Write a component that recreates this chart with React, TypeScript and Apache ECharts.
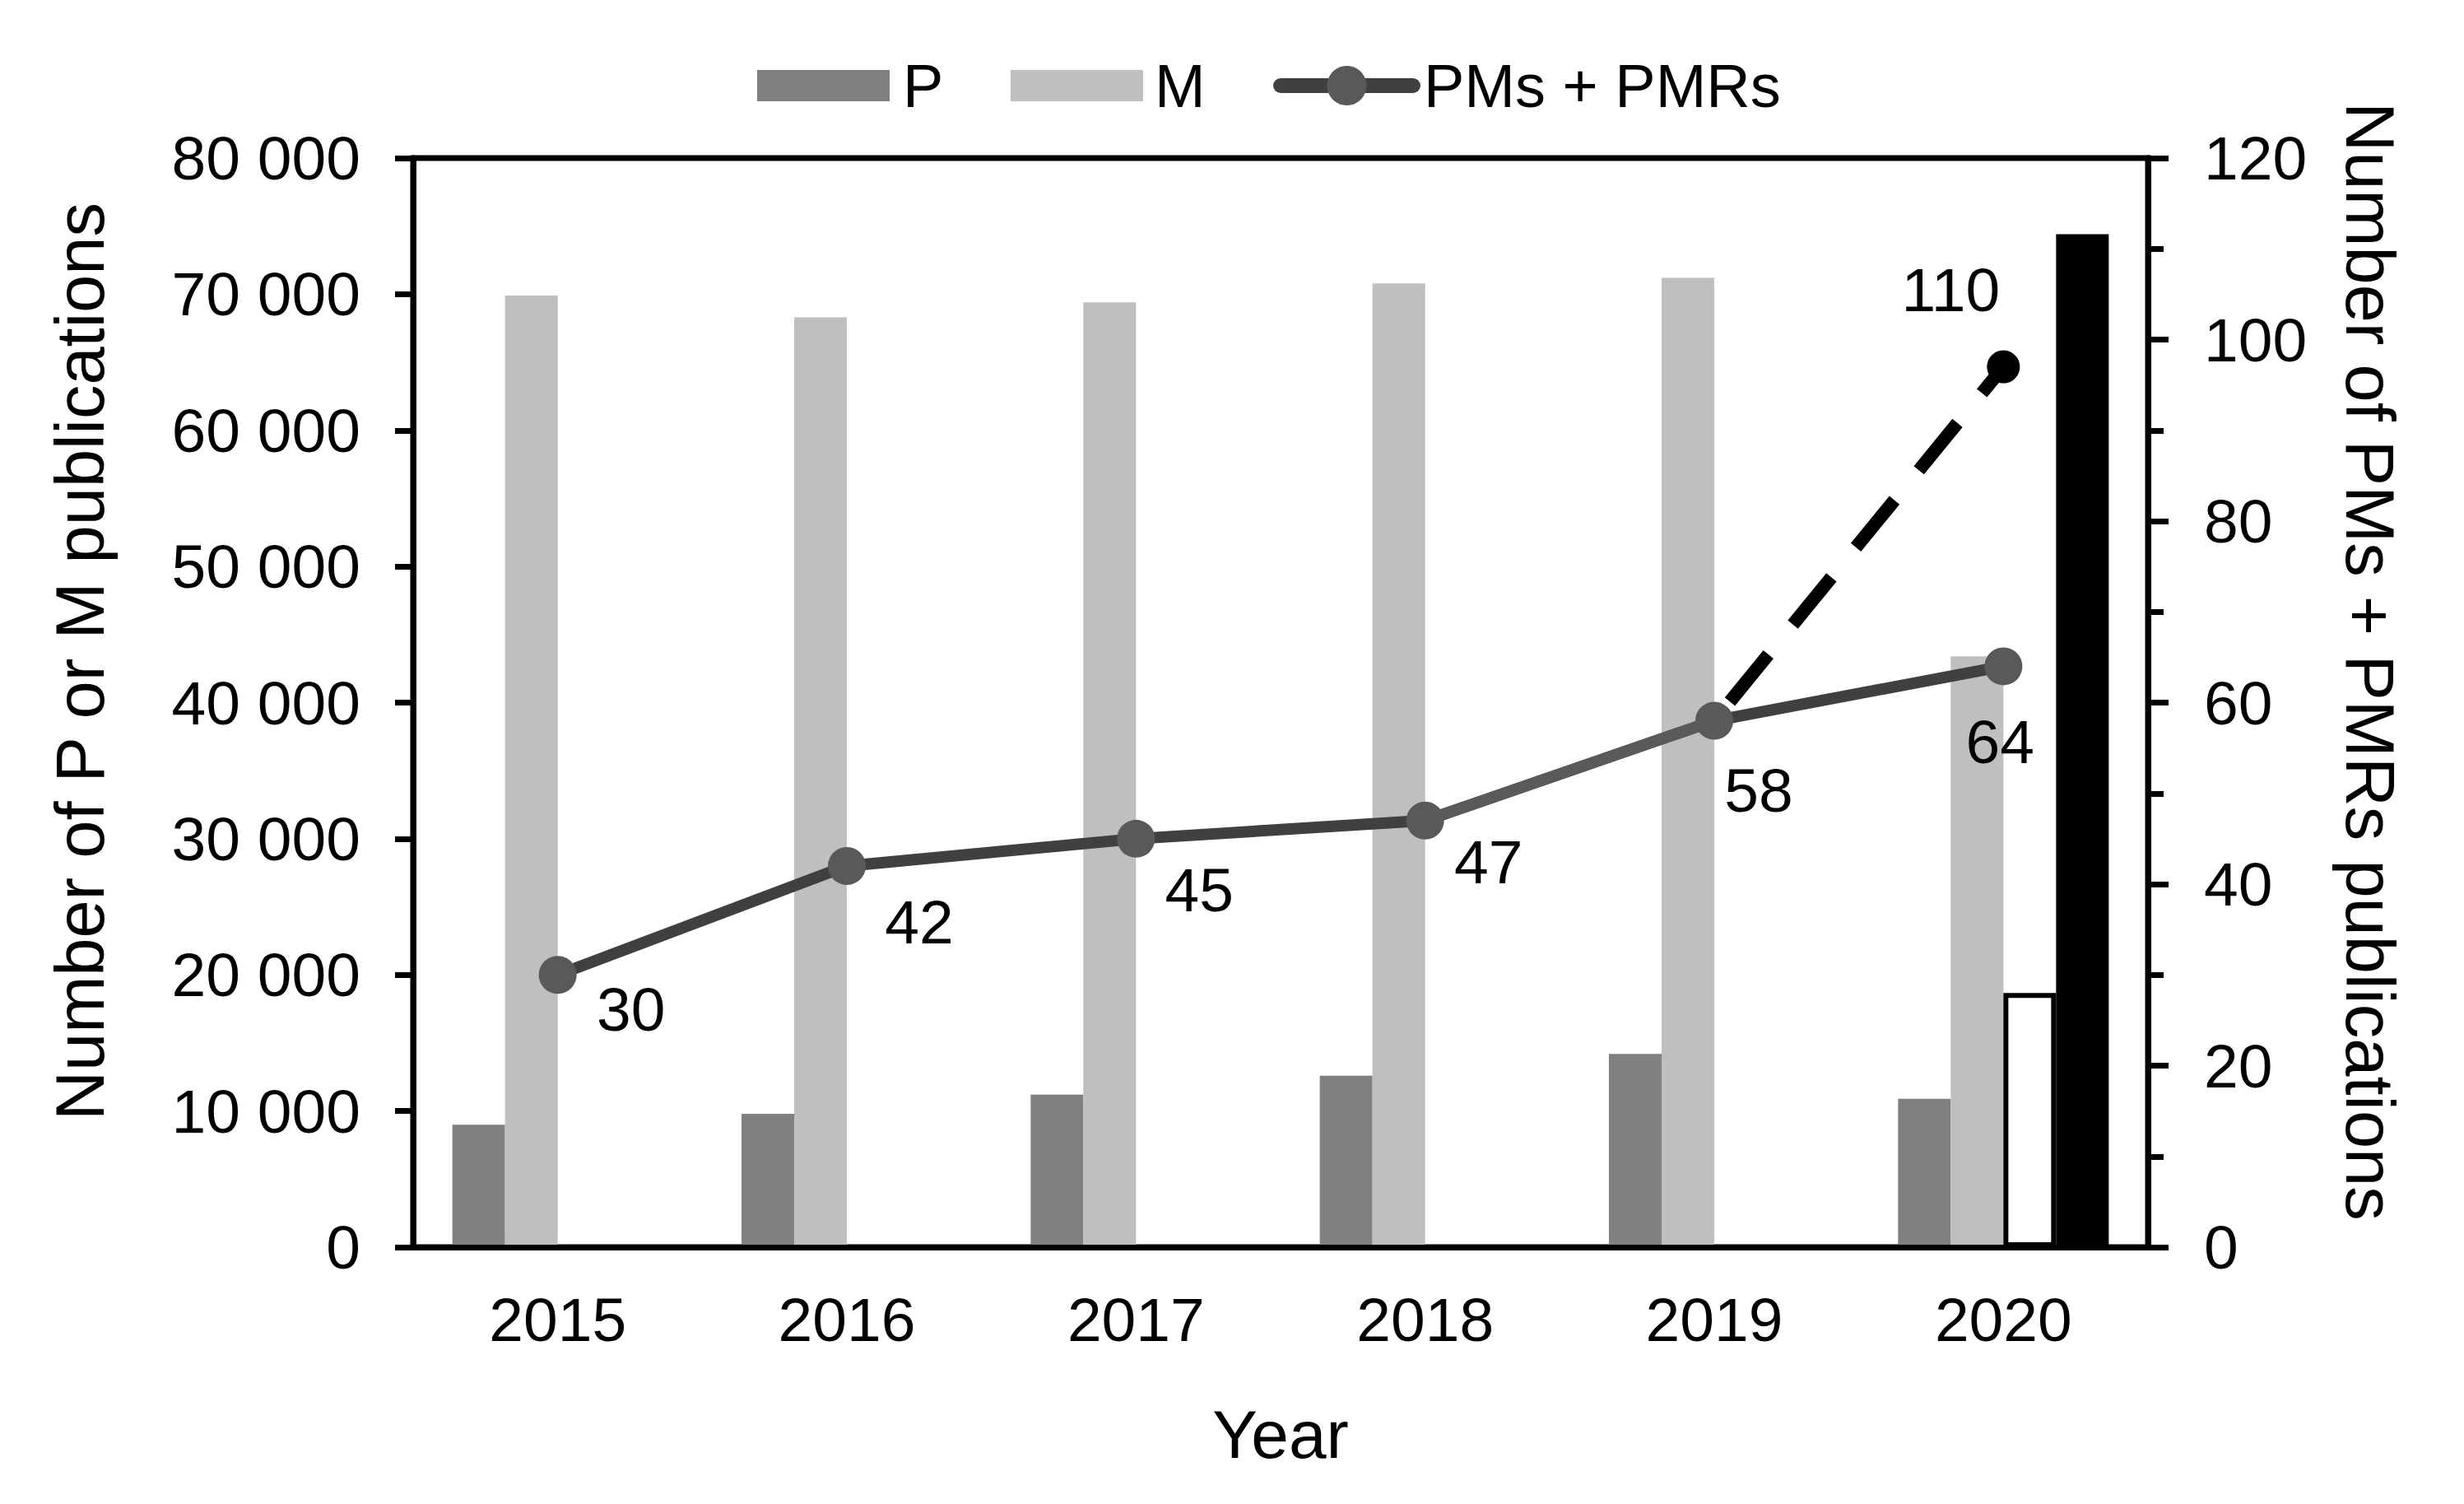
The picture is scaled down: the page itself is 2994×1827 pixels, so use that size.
import React, { useEffect, useRef } from "react";
import * as echarts from "echarts";

// ---- data ----
const years = ["2015", "2016", "2017", "2018", "2019", "2020"];
const pValues = [9000, 9800, 11200, 12600, 14200, 10900];
const mValues = [69900, 68300, 69400, 70800, 71200, 43400];
const pmValues = [30, 42, 45, 47, 58, 64];
const pmLightSegment = [null, null, null, 47, 58, null];
const pmOpen2020 = [null, null, null, null, null, 28];
const pmTotal2020 = [null, null, null, null, null, 111.6];
const projectedValues = [null, null, null, null, 58, 97];
const projectedLabel = "110";
const leftMax = 80000;
const leftInterval = 10000;
const rightMax = 120;
const rightInterval = 20;

// ---- styles ----
const FONT = "'Liberation Sans', Arial, sans-serif";
const LABEL_OFFSETS = [
  [89, 42],
  [88, 68],
  [77, 62],
  [77, 50],
  [54, 84],
  [-4, 92],
];

const fmtThousands = (v: number) =>
  v === 0 ? "0" : `${Math.floor(v / 1000)} ${String(v % 1000).padStart(3, "0")}`;

export default function App() {
  const ref = useRef<HTMLDivElement>(null);
  useEffect(() => {
    if (!ref.current) return;
    const chart = echarts.init(ref.current, undefined, { renderer: "svg" });
    const axisLine = { show: true, lineStyle: { color: "#000", width: 7 } };
    const txt = { color: "#000", fontFamily: FONT };
    chart.setOption({
      animation: false,
      backgroundColor: "#fff",
      textStyle: { fontFamily: FONT },
      grid: {
        left: 502,
        right: 384,
        top: 192,
        bottom: 312,
        show: true,
        borderColor: "#000",
        borderWidth: 7,
        backgroundColor: "transparent",
      },
      legend: [
        {
          data: [{ name: "P", icon: "rect" }],
          left: 915,
          top: 62,
          itemWidth: 161,
          itemHeight: 38,
          selectedMode: false,
          textStyle: { ...txt, fontSize: 74, padding: [0, 0, 0, 11] },
        },
        {
          data: [{ name: "M", icon: "rect" }],
          left: 1223,
          top: 62,
          itemWidth: 161,
          itemHeight: 38,
          selectedMode: false,
          textStyle: { ...txt, fontSize: 74, padding: [0, 0, 0, 9] },
        },
        {
          data: ["PMs + PMRs"],
          left: 1542,
          top: 62,
          itemWidth: 161,
          itemHeight: 60,
          selectedMode: false,
          lineStyle: { width: 18, cap: "round" },
          textStyle: { ...txt, fontSize: 74, padding: [0, 0, 0, 8] },
        },
      ],
      xAxis: {
        type: "category",
        data: years,
        z: 10,
        axisLine,
        axisTick: { show: false },
        axisLabel: { ...txt, fontSize: 75, margin: 50 },
        name: "Year",
        nameLocation: "middle",
        nameGap: 186,
        nameTextStyle: { ...txt, fontSize: 82 },
      },
      yAxis: [
        {
          type: "value",
          min: 0,
          max: leftMax,
          interval: leftInterval,
          z: 10,
          axisLine,
          axisTick: { show: true, inside: false, length: 22, lineStyle: { color: "#000", width: 7 } },
          splitLine: { show: false },
          axisLabel: { ...txt, fontSize: 75, margin: 64, formatter: fmtThousands },
          name: "Number of P or M publications",
          nameLocation: "middle",
          nameGap: 363,
          nameTextStyle: { ...txt, fontSize: 83, padding: [0, 0, 0, 100] },
        },
        {
          type: "value",
          position: "right",
          min: 0,
          max: rightMax,
          interval: rightInterval,
          z: 10,
          axisLine,
          axisTick: { show: true, inside: false, length: 25, lineStyle: { color: "#000", width: 7 } },
          minorTick: { show: true, splitNumber: 2, length: 19, lineStyle: { color: "#000", width: 7 } },
          splitLine: { show: false },
          minorSplitLine: { show: false },
          axisLabel: { ...txt, fontSize: 75, margin: 68 },
          name: "Number of PMs + PMRs publications",
          nameLocation: "middle",
          nameRotate: -90,
          nameGap: 228,
          nameTextStyle: { ...txt, fontSize: 83, padding: [0, 100, 0, 0] },
        },
      ],
      series: [
        {
          name: "P",
          type: "bar",
          yAxisIndex: 0,
          data: pValues,
          barWidth: 64,
          barGap: "0%",
          itemStyle: { color: "#808080" },
        },
        {
          name: "M",
          type: "bar",
          yAxisIndex: 0,
          data: mValues,
          barWidth: 64,
          barGap: "0%",
          itemStyle: { color: "#bfbfbf" },
        },
        {
          name: "open",
          type: "bar",
          yAxisIndex: 1,
          data: pmOpen2020,
          barWidth: 64,
          barGap: "0%",
          itemStyle: { color: "#fff", borderColor: "#000", borderWidth: 6 },
        },
        {
          name: "total",
          type: "bar",
          yAxisIndex: 1,
          data: pmTotal2020,
          barWidth: 64,
          barGap: "0%",
          itemStyle: { color: "#000" },
        },
        {
          name: "projected",
          type: "line",
          yAxisIndex: 1,
          z: 3,
          data: projectedValues.map((v, i) =>
            i === projectedValues.length - 1
              ? {
                  value: v,
                  label: { show: true, formatter: projectedLabel, offset: [-64, -94] },
                }
              : { value: v, symbol: "none" }
          ),
          symbol: "circle",
          symbolSize: 40,
          showSymbol: true,
          itemStyle: { color: "#000" },
          lineStyle: { color: "#000", width: 16, type: [74, 47], dashOffset: 91 },
          label: { show: false, position: "inside", ...txt, fontSize: 75 },
        },
        {
          name: "PMs + PMRs",
          type: "line",
          yAxisIndex: 1,
          z: 4,
          data: pmValues.map((v, i) => ({ value: v, label: { offset: LABEL_OFFSETS[i] } })),
          symbol: "circle",
          symbolSize: 46,
          showSymbol: true,
          itemStyle: { color: "#595959" },
          lineStyle: { color: "#404040", width: 14 },
          label: { show: true, position: "inside", ...txt, fontSize: 75 },
        },
        {
          name: "segment",
          type: "line",
          yAxisIndex: 1,
          z: 5,
          silent: true,
          data: pmLightSegment,
          symbol: "none",
          showSymbol: false,
          itemStyle: { color: "#5a5a5a" },
          lineStyle: { color: "#5a5a5a", width: 14 },
        },
      ],
    });
    return () => chart.dispose();
  }, []);
  return (
    <div
      ref={ref}
      style={{ position: "absolute", left: 0, top: 0, width: "2994px", height: "1827px" }}
    />
  );
}
